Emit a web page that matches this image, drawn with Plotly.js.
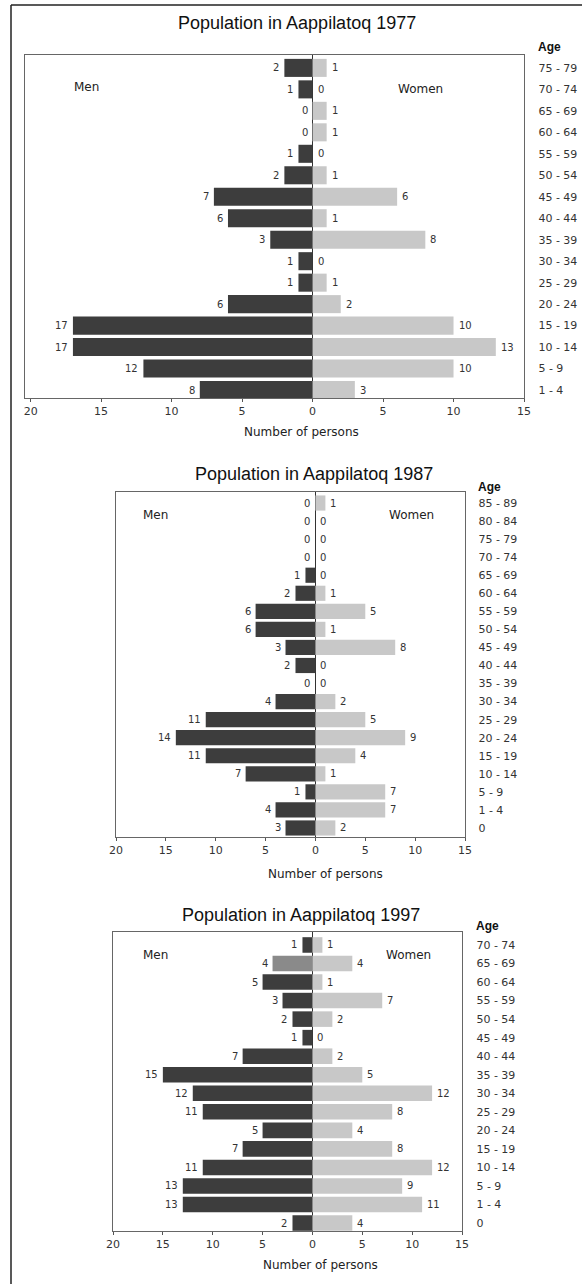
<!DOCTYPE html>
<html>
<head>
<meta charset="utf-8">
<script src="https://cdn.plot.ly/plotly-3.0.1.min.js"></script>
<style>html,body{margin:0;padding:0;background:#fff;}#chart{width:582px;height:1284px;}</style>
</head>
<body>
<div id="chart"></div>
<script>
// ---- data (rows listed top to bottom as in the picture) ----
const ages1977 = ["75 - 79","70 - 74","65 - 69","60 - 64","55 - 59","50 - 54","45 - 49","40 - 44","35 - 39","30 - 34","25 - 29","20 - 24","15 - 19","10 - 14","5 - 9","1 - 4"];
const men1977 = [2,1,0,0,1,2,7,6,3,1,1,6,17,17,12,8];
const women1977 = [1,0,1,1,0,1,6,1,8,0,1,2,10,13,10,3];

const ages1987 = ["85 - 89","80 - 84","75 - 79","70 - 74","65 - 69","60 - 64","55 - 59","50 - 54","45 - 49","40 - 44","35 - 39","30 - 34","25 - 29","20 - 24","15 - 19","10 - 14","5 - 9","1 - 4","0"];
const men1987 = [0,0,0,0,1,2,6,6,3,2,0,4,11,14,11,7,1,4,3];
const women1987 = [1,0,0,0,0,1,5,1,8,0,0,2,5,9,4,1,7,7,2];

const ages1997 = ["70 - 74","65 - 69","60 - 64","55 - 59","50 - 54","45 - 49","40 - 44","35 - 39","30 - 34","25 - 29","20 - 24","15 - 19","10 - 14","5 - 9","1 - 4","0"];
const men1997 = [1,4,5,3,2,1,7,15,12,11,5,7,11,13,13,2];
const women1997 = [1,4,1,7,2,0,2,5,12,8,4,8,12,9,11,4];

const tickVals = [-20,-15,-10,-5,0,5,10,15];
const tickText = ["20","15","10","5","0","5","10","15"];
const years = ["1977","1987","1997"];

// ---- layout geometry (pixels) ----
const W = 582, H = 1284;
const panels = [
  {ages: ages1977, men: men1977, women: women1977, box:[25,55,524,398], xr:[-20.4,15], yr:[-0.37,15.6], standoff:11,
   title:[297,23], age:[549,47], menL:[86,87], womenL:[420,89], xt:[301,432]},
  {ages: ages1987, men: men1987, women: women1987, box:[116,492,465,837], xr:[-20,15], yr:[-0.5,18.61], standoff:10,
   title:[314,474], age:[489,487], menL:[155,515], womenL:[411,515], xt:[325,874]},
  {ages: ages1997, men: men1997, women: women1997, box:[113,932,462,1231], xr:[-20,15], yr:[-0.43,15.7], standoff:11,
   title:[301,915], age:[487,926], menL:[155,955], womenL:[408,955], xt:[320,1265]}
];

const menColor = "#3d3d3d", womenColor = "#c8c8c8";
const px = x => x / W, py = y => 1 - y / H;
const wide = "DejaVu Sans, Verdana, sans-serif";
const valFont = {family: wide, size: 10, color: "#333"};

const traces = [], annotations = [];
const layout = {
  width: W, height: H, margin: {l:0, r:0, t:0, b:0},
  paper_bgcolor: "#fff", plot_bgcolor: "#fff",
  showlegend: false, barmode: "relative", bargap: 0.16,
  font: {family: "Liberation Sans, Arial, sans-serif", color: "#222"},
  shapes: [
    {type:"line", xref:"paper", yref:"paper", x0:px(11), x1:1, y0:py(5), y1:py(5), line:{color:"#222", width:1.5}},
    {type:"line", xref:"paper", yref:"paper", x0:px(11), x1:px(11), y0:py(5), y1:0, line:{color:"#222", width:1.5}}
  ],
  annotations: annotations
};

panels.forEach((p, i) => {
  const n = i === 0 ? "" : String(i + 1);
  const xa = "x" + n, ya = "y" + n;
  const menColors = p.men.map(() => menColor);
  if (i === 2) menColors[1] = "#8a8a8a";
  traces.push({
    type: "bar", orientation: "h", y: p.ages, x: p.men.map(v => -v),
    marker: {color: menColors, line: {width: 0}}, xaxis: xa, yaxis: ya, hoverinfo: "skip"
  });
  traces.push({
    type: "bar", orientation: "h", y: p.ages, x: p.women,
    marker: {color: womenColor, line: {width: 0}}, xaxis: xa, yaxis: ya, hoverinfo: "skip"
  });
  // value labels placed through the axes' own scales
  p.ages.forEach((a, k) => {
    annotations.push({xref: xa, yref: ya, x: -p.men[k], y: a, text: String(p.men[k]), showarrow: false,
      xanchor: "right", yanchor: "middle", xshift: -3, font: valFont});
    annotations.push({xref: xa, yref: ya, x: p.women[k], y: a, text: String(p.women[k]), showarrow: false,
      xanchor: "left", yanchor: "middle", xshift: 3, font: valFont});
  });
  const [l, t, r, b] = p.box;
  layout["xaxis" + n] = {
    domain: [px(l), px(r)], range: p.xr, anchor: ya,
    tickvals: tickVals, ticktext: tickText, ticks: "outside", ticklen: 3, tickcolor: "#555",
    tickfont: {family: wide, size: 11, color: "#333"}, showgrid: false,
    zeroline: true, zerolinecolor: "#333", zerolinewidth: 1,
    showline: true, mirror: true, linecolor: "#666", linewidth: 1.2, fixedrange: true
  };
  layout["yaxis" + n] = {
    domain: [py(b), py(t)], range: p.yr, anchor: xa, type: "category",
    categoryorder: "array", categoryarray: p.ages.slice().reverse(),
    side: "right", ticks: "", ticklabelstandoff: p.standoff,
    tickfont: {family: wide, size: 11, color: "#333"}, showgrid: false,
    showline: true, mirror: true, linecolor: "#666", linewidth: 1.2, fixedrange: true
  };
  annotations.push(
    {xref:"paper", yref:"paper", x:px(p.title[0]), y:py(p.title[1]), text:"Population in Aappilatoq " + years[i],
     showarrow:false, xanchor:"center", yanchor:"middle", font:{size:18, color:"#111"}},
    {xref:"paper", yref:"paper", x:px(p.age[0]), y:py(p.age[1]), text:"<b>Age</b>",
     showarrow:false, xanchor:"center", yanchor:"middle", font:{size:12, color:"#111"}},
    {xref:"paper", yref:"paper", x:px(p.menL[0]), y:py(p.menL[1]), text:"Men",
     showarrow:false, xanchor:"center", yanchor:"middle", font:{family: wide, size:12, color:"#222"}},
    {xref:"paper", yref:"paper", x:px(p.womenL[0]), y:py(p.womenL[1]), text:"Women",
     showarrow:false, xanchor:"center", yanchor:"middle", font:{family: wide, size:12, color:"#222"}},
    {xref:"paper", yref:"paper", x:px(p.xt[0]), y:py(p.xt[1]), text:"Number of persons",
     showarrow:false, xanchor:"center", yanchor:"middle", font:{family: wide, size:12, color:"#222"}}
  );
});

Plotly.newPlot("chart", traces, layout, {staticPlot: true, displayModeBar: false});
</script>
</body>
</html>
